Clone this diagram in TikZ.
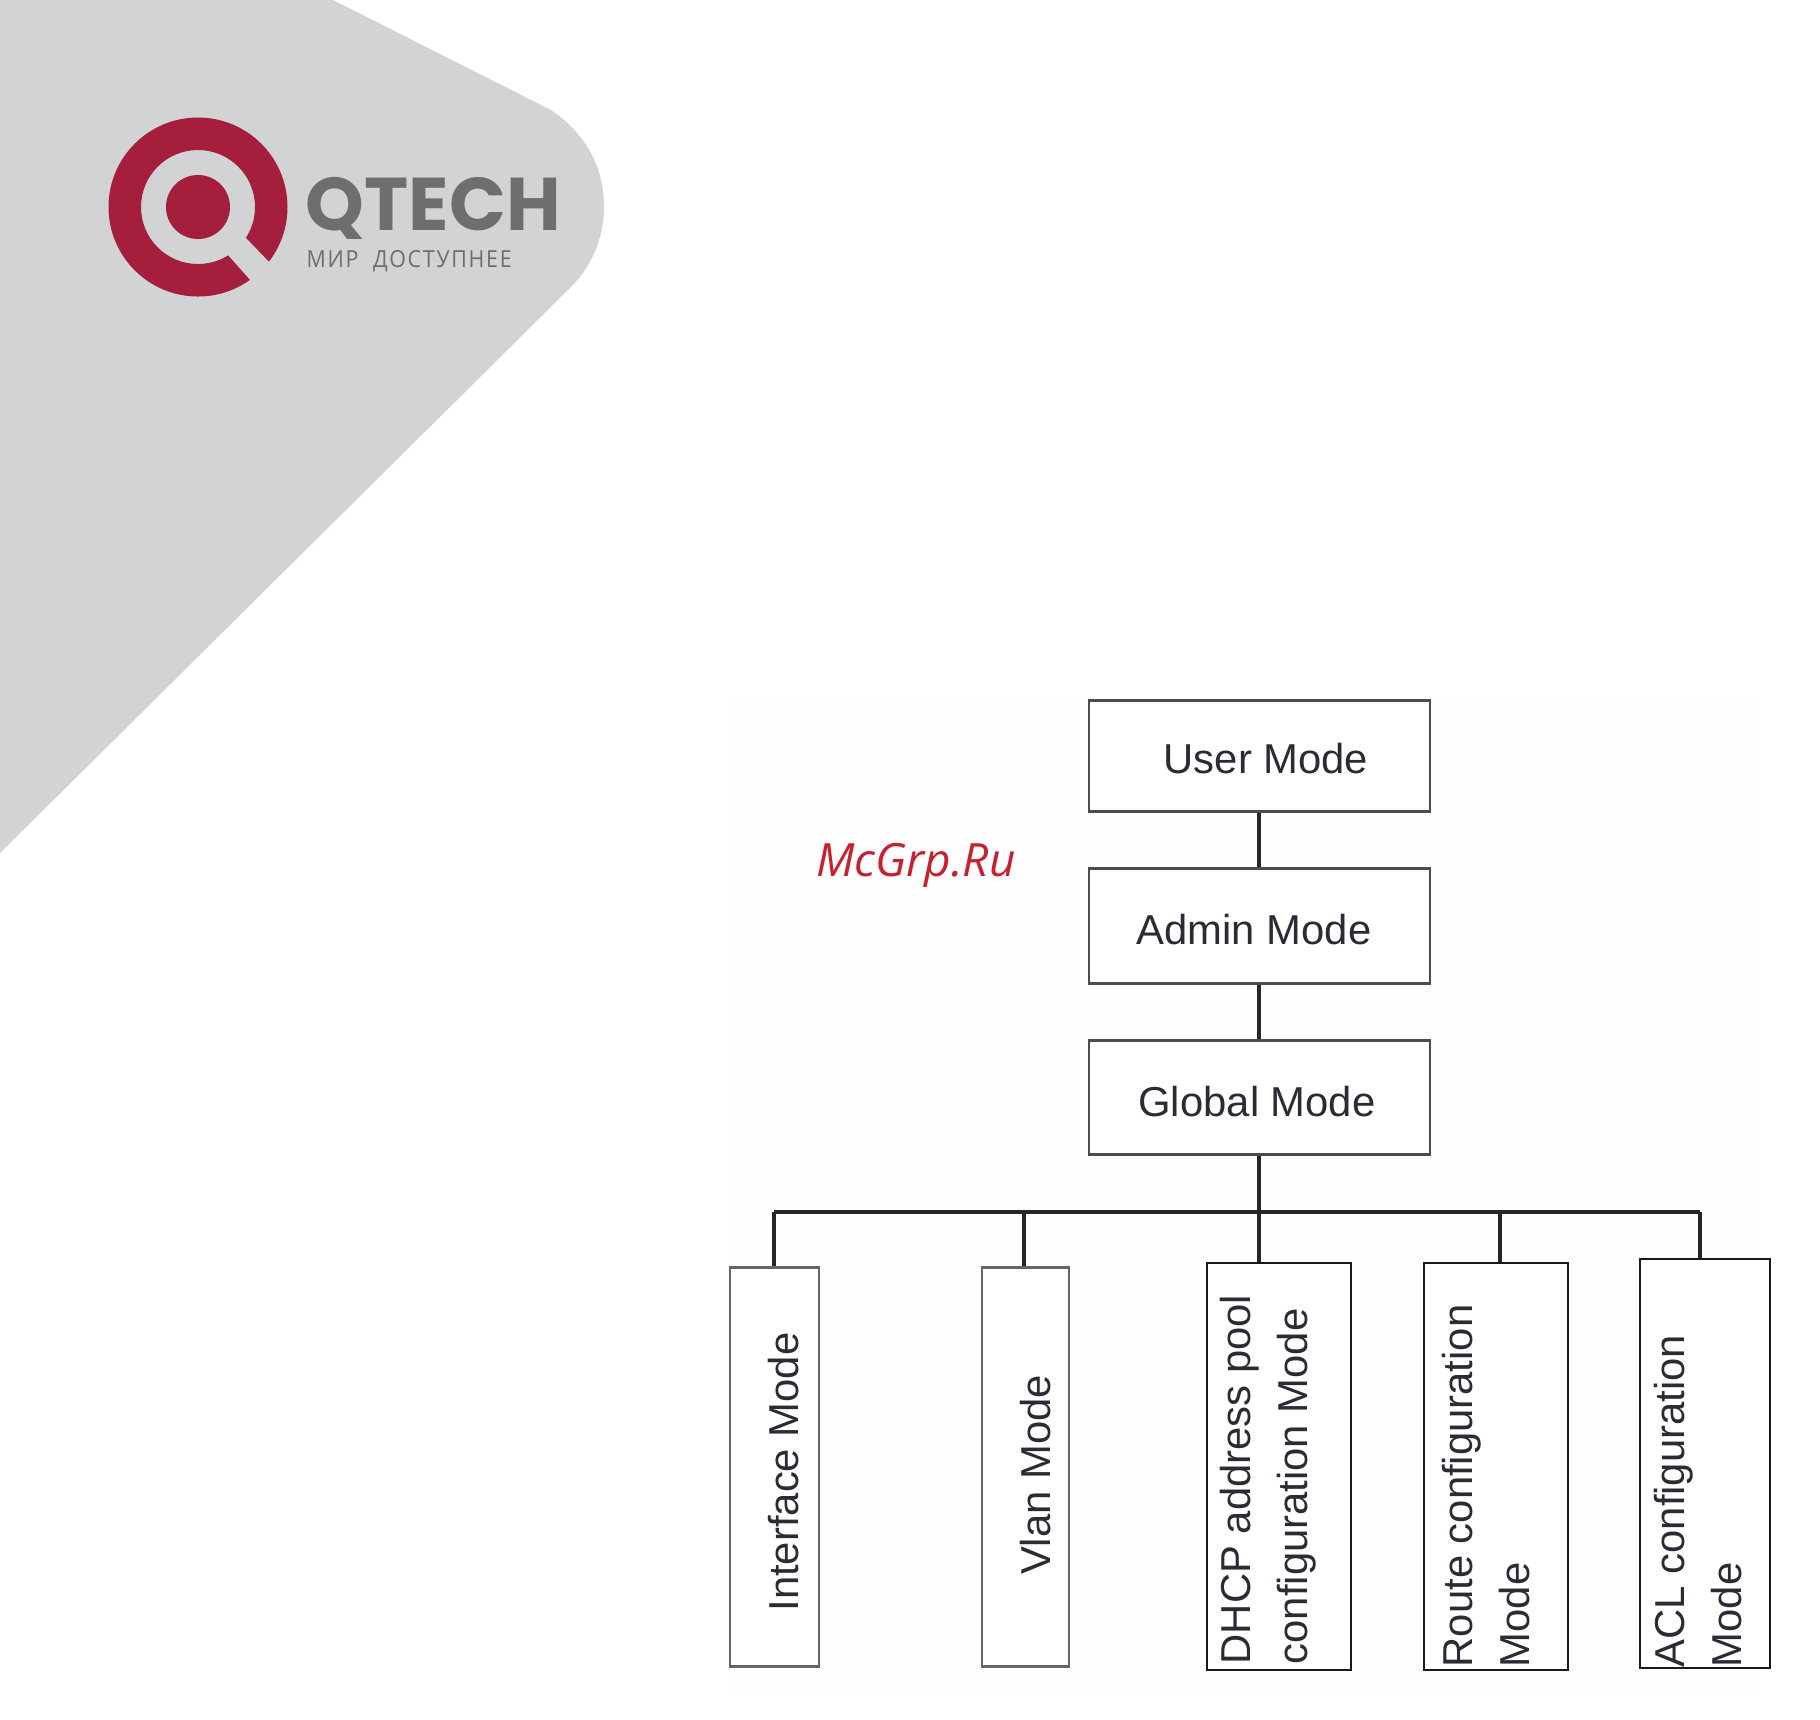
\documentclass[tikz,border=0pt]{standalone}
\usepackage{fontspec}
\usepackage{graphicx}
\setmainfont{Liberation Sans}
\newfontfamily\logofont{Poppins}
\newfontfamily\sublogofont{Open Sans}
\definecolor{shieldgray}{HTML}{D1D3D4}
\definecolor{logored}{HTML}{A51E3B}
\definecolor{logogray}{HTML}{6E6E6E}
\definecolor{markred}{HTML}{C8202E}
\definecolor{labelink}{HTML}{2B2B35}
\begin{document}
\begin{tikzpicture}[x=1cm,y=-1cm,
  modebox/.style={draw=#1,line width=.85pt,inner sep=0pt,fill=white},
  modetext/.style={inner sep=0pt,text=labelink,font=\fontsize{11.9}{16.3}\selectfont},
  sidetext/.style={modetext,rotate=90,align=left,anchor=west},
  link/.style={line width=1pt,draw=black!85}]
\useasboundingbox (0,0) rectangle (18.2,17.19);
% faint picture ground
\fill[white!99.5!black] (7.28,6.95) rectangle (17.6,16.9);
% shield and logo
\fill[shieldgray] (3.33,0) -- (5.51,1.10) .. controls (5.85,1.33) and (6.04,1.66) .. (6.04,2.07)
  .. controls (6.04,2.40) and (5.90,2.68) .. (5.71,2.87) -- (0,8.53) -- (0,0) -- cycle;
\fill[logored,even odd rule] (1.98,2.07) circle (.895) (1.98,2.07) circle (.57);
\fill[logored] (1.98,2.07) circle (.32);
\fill[shieldgray] (2.45,2.37) -- (2.71,2.64) -- (2.52,2.82) -- (2.28,2.55) -- cycle;
\node[inner sep=0pt,anchor=west,text=logogray] (brand) at (3.05,2.08)
  {\resizebox{2.55cm}{!}{\logofont\bfseries QTECH}};
\node[inner sep=0pt,anchor=west,text=logogray] (motto) at (3.06,2.61)
  {\resizebox{2.05cm}{.17cm}{\sublogofont\addfontfeature{LetterSpace=8}МИР\ \ ДОСТУПНЕЕ}};
\node[inner sep=0pt,text=markred] (mark) at (9.16,8.65)
  {\resizebox{1.99cm}{!}{\sublogofont\itshape McGrp.Ru}};
% upper boxes
\node[modebox=black!70,minimum width=3.41cm,minimum height=1.11cm] (user) at (12.595,7.555) {};
\node[modebox=black!70,minimum width=3.41cm,minimum height=1.15cm] (admin) at (12.595,9.255) {};
\node[modebox=black!70,minimum width=3.41cm,minimum height=1.14cm] (global) at (12.595,10.97) {};
% lower boxes
\node[modebox=black!60,minimum width=.89cm,minimum height=3.99cm] (iface) at (7.745,14.67) {};
\node[modebox=black!60,minimum width=.87cm,minimum height=3.99cm] (vlan) at (10.255,14.67) {};
\node[modebox=black!90,minimum width=1.44cm,minimum height=4.07cm,line width=.8pt] (dhcp) at (12.79,14.665) {};
\node[modebox=black!90,minimum width=1.44cm,minimum height=4.07cm,line width=.8pt] (route) at (14.96,14.665) {};
\node[modebox=black!90,minimum width=1.30cm,minimum height=4.09cm,line width=.8pt] (acl) at (17.05,14.635) {};
% connectors
\coordinate (busleft) at (7.74,12.12);
\coordinate (busright) at (17.0,12.12);
\coordinate (bushub) at (12.59,12.12);
\coordinate (busvlan) at (10.24,12.12);
\coordinate (busroute) at (15.0,12.12);
\draw[link] (user.south -| bushub) -- (admin.north -| bushub);
\draw[link] (admin.south -| bushub) -- (global.north -| bushub);
\draw[link] (global.south -| bushub) -- (bushub);
\draw[link] (busleft) -- (busright);
\draw[link] (busleft) -- (busleft |- iface.north);
\draw[link] (busvlan) -- (busvlan |- vlan.north);
\draw[link] (bushub) -- (bushub |- dhcp.north);
\draw[link] (busroute) -- (busroute |- route.north);
\draw[link] (busright) -- (busright |- acl.north);
% labels
\node[modetext] (usertext) at (12.66,7.59) {User Mode};
\node[modetext] (admintext) at (12.54,9.30) {Admin Mode};
\node[modetext] (globaltext) at (12.57,11.02) {Global Mode};
\node[modetext,rotate=90] (ifacetext) at (7.84,14.72) {Interface Mode};
\node[modetext,rotate=90] (vlantext) at (10.36,14.75) {Vlan Mode};
\node[sidetext] (dhcptext) at (12.68,16.65) {DHCP address pool\\configuration Mode};
\node[sidetext] (routetext) at (14.86,16.68) {Route configuration\\Mode};
\node[sidetext] (acltext) at (16.98,16.68) {ACL configuration\\Mode};
\end{tikzpicture}
\end{document}
